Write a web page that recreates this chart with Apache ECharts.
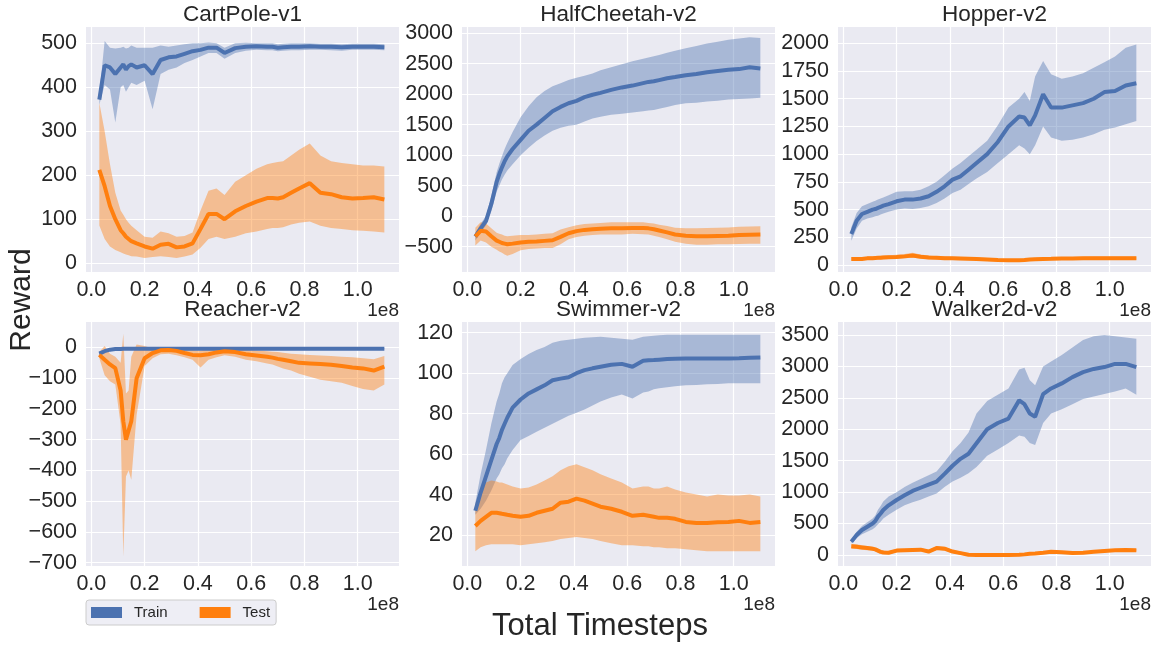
<!DOCTYPE html>
<html>
<head>
<meta charset="utf-8">
<script src="https://cdn.jsdelivr.net/npm/echarts@6/dist/echarts.min.js"></script>
<style>
html,body{margin:0;padding:0;background:#fff}
#main{width:1156px;height:645px}
</style>
</head>
<body>
<div id="main"></div>
<script>
// x positions (units of 1e8 timesteps)
var steps = [0.03,0.05,0.07,0.09,0.11, 0.12,0.13,0.14,0.15,0.17, 0.20,0.23,0.26,0.29,0.32, 0.35,0.38,0.41,0.44,0.47, 0.50,0.54,0.58,0.62,0.66, 0.68,0.70,0.72,0.75,0.78, 0.82,0.86,0.90,0.94,0.98, 1.02,1.06,1.10];

// tick labels
var xTicks       = [0, 0.2, 0.4, 0.6, 0.8, 1.0];
var cartTicks    = [0, 100, 200, 300, 400, 500];
var cheetahTicks = [-500, 0, 500, 1000, 1500, 2000, 2500, 3000];
var hopperTicks  = [0, 250, 500, 750, 1000, 1250, 1500, 1750, 2000];
var reacherTicks = [-700, -600, -500, -400, -300, -200, -100, 0];
var swimTicks    = [20, 40, 60, 80, 100, 120];
var walkerTicks  = [0, 500, 1000, 1500, 2000, 2500, 3000, 3500];

// CartPole-v1
var cartTrain   = [372,450,445,430,445, 452,440,448,452,445, 450,430,462,468,470, 476,482,485,490,490, 478,489,492,493,492, 492,490,491,492,492, 493,492,492,491,492, 492,492,491];
var cartTrainLo = [360,405,395,320,400, 405,390,400,410,405, 415,350,430,440,445, 455,462,470,478,478, 465,478,483,485,484, 484,482,483,484,484, 485,485,484,483,485, 485,485,484];
var cartTrainHi = [385,505,490,488,490, 492,488,490,495,490, 490,490,495,492,495, 498,500,500,502,500, 490,500,501,500,500, 500,498,499,500,500, 500,499,499,498,499, 499,499,498];
var cartTest    = [212,175,130,100,75, 68,60,55,50,45, 38,33,42,44,36, 38,45,78,112,112, 100,118,130,140,148, 148,147,150,160,170, 182,160,157,150,147, 148,150,145];
var cartTestLo  = [86,55,38,30,25, 22,20,18,16,15, 12,14,16,14,12, 15,20,35,55,60, 55,60,68,72,78, 80,80,82,88,92, 95,85,80,78,75, 74,72,70];
var cartTestHi  = [365,300,225,160,120, 110,100,92,85,75, 60,58,72,68,60, 62,70,120,165,170, 155,185,200,215,225, 228,230,232,245,258, 272,245,232,228,225, 222,222,220];

// HalfCheetah-v2
var cheetahTrain   = [-336,-200,-80,200,560, 690,800,900,980,1100, 1250,1400,1500,1610,1720, 1790,1850,1890,1950,1990, 2020,2070,2110,2140,2180, 2200,2210,2230,2260,2280, 2310,2330,2360,2380,2400, 2410,2440,2420];
var cheetahTrainLo = [-400,-280,-150,80,400, 500,600,680,750,850, 1000,1120,1230,1320,1400, 1450,1480,1500,1550,1600, 1630,1660,1680,1700,1720, 1730,1740,1760,1790,1820, 1850,1860,1880,1890,1910, 1920,1930,1940];
var cheetahTrainHi = [-280,-120,0,330,720, 860,980,1100,1200,1380, 1620,1800,1950,2050,2130, 2180,2230,2270,2300,2340, 2390,2440,2490,2540,2580, 2600,2620,2640,2680,2710, 2750,2790,2830,2860,2890, 2910,2930,2920];
var cheetahTest    = [-330,-240,-250,-330,-400, -420,-440,-450,-460,-450, -430,-420,-415,-405,-395, -340,-280,-245,-225,-215, -205,-200,-200,-195,-195, -200,-215,-235,-265,-300, -320,-330,-330,-325,-320, -310,-305,-300];
var cheetahTestLo  = [-480,-400,-430,-500,-550, -580,-600,-630,-650,-620, -560,-540,-530,-520,-520, -460,-380,-340,-320,-310, -300,-300,-300,-290,-295, -300,-320,-340,-380,-420, -450,-470,-470,-460,-460, -455,-450,-450];
var cheetahTestHi  = [-190,-100,-120,-200,-270, -290,-300,-320,-330,-320, -310,-310,-300,-290,-280, -220,-180,-150,-130,-120, -110,-100,-100,-100,-100, -110,-120,-140,-160,-190, -200,-200,-195,-190,-185, -175,-170,-165];

// Hopper-v2
var hopperTrain   = [280,400,460,480,500, 505,515,525,535,550, 575,590,590,600,620, 660,710,770,800,860, 920,1000,1110,1250,1340, 1330,1260,1350,1540,1420, 1420,1440,1460,1500,1560, 1570,1620,1640];
var hopperTrainLo = [220,330,400,420,430, 440,445,455,465,480, 500,510,505,515,530, 560,600,650,680,730, 780,840,920,1000,1080, 1050,1000,1080,1250,1150, 1120,1130,1150,1180,1220, 1240,1270,1300];
var hopperTrainHi = [340,470,530,550,570, 580,590,600,610,630, 660,665,665,680,710, 750,810,870,920,980, 1040,1120,1260,1420,1500, 1560,1480,1700,1840,1720, 1680,1700,1730,1780,1830, 1880,1960,1990];
var hopperTest    = [55,55,55,60,62, 64,65,66,68,70, 72,78,85,75,68, 65,62,60,58,56, 54,50,45,42,42, 45,50,52,55,56, 58,58,60,62,62, 62,62,62];
var hopperTestLo  = [40,42,42,45,48, 50,50,50,52,55, 56,60,65,58,52, 50,48,46,44,42, 40,37,33,30,30, 33,38,40,42,44, 45,45,46,48,48, 48,48,48];
var hopperTestHi  = [70,70,72,78,80, 80,82,84,86,88, 92,100,110,95,85, 80,78,75,72,70, 68,63,57,54,55, 58,62,65,68,70, 72,72,74,76,76, 76,76,76];

// Reacher-v2
var reacherTrain   = [-20,-12,-7,-5,-5, -4,-4,-4,-4,-4, -4,-4,-4,-4,-4, -4,-4,-4,-4,-4, -4,-4,-4,-4,-4, -4,-4,-4,-4,-4, -4,-4,-4,-4,-4, -4,-4,-4];
var reacherTrainLo = [-30,-16,-10,-8,-7, -6,-6,-6,-6,-6, -6,-6,-6,-6,-6, -6,-6,-6,-6,-6, -6,-6,-6,-6,-6, -6,-6,-6,-6,-6, -6,-6,-6,-6,-6, -6,-6,-6];
var reacherTrainHi = [-12,-8,-4,-3,-3, -2,-2,-2,-2,-2, -2,-2,-2,-2,-2, -2,-2,-2,-2,-2, -2,-2,-2,-2,-2, -2,-2,-2,-2,-2, -2,-2,-2,-2,-2, -2,-2,-2];
var reacherTest    = [-24,-40,-55,-67,-140, -240,-300,-270,-240,-100, -35,-18,-9,-8,-11, -18,-24,-25,-22,-16, -12,-15,-22,-26,-30, -33,-37,-40,-45,-50, -52,-54,-56,-60,-65, -68,-75,-62];
var reacherTestLo  = [-35,-90,-110,-120,-250, -680,-420,-400,-430,-220, -60,-35,-22,-20,-25, -32,-40,-65,-40,-32, -25,-30,-40,-45,-52, -55,-62,-68,-75,-85, -95,-105,-110,-115,-125, -135,-140,-120];
var reacherTestHi  = [-15,5,-20,-30,-50, 45,-150,-140,-30,10, 5,-3,0,-2,-4, -6,-8,-10,-6,-3, 0,-3,-8,-10,-12, -14,-15,-17,-20,-22, -24,-26,-28,-30,-32, -35,-38,-28];

// Swimmer-v2
var swimTrain   = [32,41,49,57,65, 68,72,75,78,83, 87,90,92,94,96.5, 97.3,98,100,101.5,102.4, 103.2,104.2,104.6,103.2,106.2, 106.4,106.5,106.7,107,107.1, 107.2,107.2,107.3,107.3,107.3, 107.4,107.6,107.8];
var swimTrainLo = [30,33,37,42,48, 50,53,55,58,62, 67,69,71,73,75, 77,79,80.5,82,84, 86,88,89.5,87.5,90.5, 91,92,92.5,93,93.5, 94,94.2,94.5,94.7,95, 95,95,95];
var swimTrainHi = [36,50,62,75,86, 90,95,98,100,104, 107,109.5,111.5,113,115, 116,116.5,117,117.5,117.8, 118,117.5,117,116.5,118, 118.3,118.5,118.7,119,119, 119,119,119,119,119, 119,119,119];
var swimTest    = [24.5,27,29,31,31, 30.8,30.5,30.3,30,29.5, 29,29.5,31,32,33, 36,36.5,38,37,35.5, 34,33,31.5,29.5,30, 29.5,29,28.5,28.5,28, 26.5,26,26,26.3,26.5, 27,26,26.5];
var swimTestLo  = [12,14,15,15.5,15.5, 15.5,15.5,15.5,15.5,15.5, 15,15.5,16,16.5,17, 18,18.5,19,18.5,18, 17,16,15,15,14.5, 14.5,14,14,13.5,13.5, 13,12.5,12,12,12, 12,12,12];
var swimTestHi  = [35,42,46,47,46.5, 46,46,45.5,45,44, 43,43.5,45,47,49, 52,54,55,53.5,52, 50,48,46,43,44, 44,43,43,44,42.5, 41,40,39,40,39.5, 39.5,40,39];

// Walker2d-v2
var walkerTrain   = [212,318,398,450,500, 540,610,660,716,790, 875,950,1020,1070,1120, 1167,1290,1420,1530,1610, 1777,2000,2100,2170,2460, 2400,2250,2200,2560,2650, 2730,2830,2910,2960,2990, 3040,3040,2990];
var walkerTrainLo = [190,270,330,370,410, 440,490,530,580,640, 720,790,840,880,930, 980,1080,1170,1230,1300, 1400,1580,1680,1780,1900, 1880,1780,1750,2100,2250, 2320,2400,2480,2520,2560, 2600,2650,2550];
var walkerTrainHi = [240,370,460,520,580, 630,720,780,850,930, 1000,1080,1150,1210,1270, 1330,1480,1650,1780,1950, 2250,2450,2550,2650,2950, 2980,2780,2700,3000,3080, 3180,3300,3420,3480,3500, 3480,3460,3440];
var walkerTest    = [140,130,120,110,100, 90,70,50,40,35, 70,75,80,85,55, 110,100,55,30,5, 0,0,0,0,5, 10,20,25,35,50, 45,30,35,50,65, 75,80,75];
var walkerTestLo  = [100,95,85,75,70, 60,40,25,15,10, 45,50,55,60,30, 80,70,30,5,-15, -15,-15,-15,-15,-12, -8,0,5,15,30, 25,10,15,30,45, 55,60,55];
var walkerTestHi  = [180,170,155,145,130, 120,100,80,70,60, 95,100,105,110,80, 140,130,80,55,25, 15,15,15,15,22, 28,40,45,55,70, 65,50,55,70,85, 95,100,95];

var titles = ['CartPole-v1','HalfCheetah-v2','Hopper-v2','Reacher-v2','Swimmer-v2','Walker2d-v2'];
var yTickSets = [cartTicks, cheetahTicks, hopperTicks, reacherTicks, swimTicks, walkerTicks];

var panels = [
    {train:[cartTrain,cartTrainLo,cartTrainHi], test:[cartTest,cartTestLo,cartTestHi]},
    {train:[cheetahTrain,cheetahTrainLo,cheetahTrainHi], test:[cheetahTest,cheetahTestLo,cheetahTestHi]},
    {train:[hopperTrain,hopperTrainLo,hopperTrainHi], test:[hopperTest,hopperTestLo,hopperTestHi]},
    {train:[reacherTrain,reacherTrainLo,reacherTrainHi], test:[reacherTest,reacherTestLo,reacherTestHi]},
    {train:[swimTrain,swimTrainLo,swimTrainHi], test:[swimTest,swimTestLo,swimTestHi]},
    {train:[walkerTrain,walkerTrainLo,walkerTrainHi], test:[walkerTest,walkerTestLo,walkerTestHi]}
];

// layout (pixels) and axis windows
var colLeft = [86, 462, 838], rowTop = [27, 322], plotW = 313, plotH = [245, 244];
var yWindow = [[-20,537],[-915,3100],[-63,2147],[-711,83],[4.7,125.3],[-175,3707]];
var xWindow = [-0.02, 1.155];

var FONT = '"Liberation Sans", Arial, sans-serif';
var INK = '#262626';
var BLUE = '#4c72b0', ORANGE = '#ff7f0e';

var mychart = echarts.init(document.getElementById('main'));

// confidence band drawn as one polygon through the axes' own coordinates
function bandSeries(idx, lo, hi, fill) {
    var rows = steps.map(function (x, k) { return [x, lo[k], hi[k]]; });
    return {
        type: 'custom',
        xAxisIndex: idx, yAxisIndex: idx,
        silent: true,
        data: rows,
        encode: {x: 0, y: [1, 2]},
        renderItem: function (params, api) {
            if (params.dataIndex !== 0) return null;
            var pts = [];
            for (var k = 0; k < rows.length; k++) pts.push(api.coord([rows[k][0], rows[k][2]]));
            for (var k2 = rows.length - 1; k2 >= 0; k2--) pts.push(api.coord([rows[k2][0], rows[k2][1]]));
            return {type: 'polygon', shape: {points: pts}, style: {fill: fill}};
        }
    };
}

function lineSeries(idx, name, vals, color) {
    return {
        name: name,
        type: 'line',
        xAxisIndex: idx, yAxisIndex: idx,
        data: steps.map(function (x, k) { return [x, vals[k]]; }),
        showSymbol: false,
        symbol: 'none',
        silent: true,
        itemStyle: {color: color},
        lineStyle: {color: color, width: 4}
    };
}

function axisCommon(ticks, fmt, margin) {
    return {
        axisLine: {show: false},
        axisTick: {show: false, customValues: ticks},
        splitLine: {show: true, lineStyle: {color: '#ffffff', width: 1.2}},
        axisLabel: {customValues: ticks, fontSize: 21.5, color: INK, fontFamily: FONT,
            margin: margin, formatter: fmt}
    };
}

var grids = [], xAxes = [], yAxes = [], series = [], texts = [];

panels.forEach(function (p, i) {
    var row = i < 3 ? 0 : 1, col = i % 3;
    var left = colLeft[col], top = rowTop[row], h = plotH[row];
    grids.push({left: left, top: top, width: plotW, height: h, show: true,
        backgroundColor: '#eaeaf2', borderWidth: 0});
    xAxes.push(Object.assign({gridIndex: i, type: 'value', min: xWindow[0], max: xWindow[1]},
        axisCommon(xTicks, function (v) { return v.toFixed(1); }, 7)));
    yAxes.push(Object.assign({gridIndex: i, type: 'value', min: yWindow[i][0], max: yWindow[i][1]},
        axisCommon(yTickSets[i], function (v) { return String(Math.round(v)).replace('-', '\u2212'); }, 9)));
    series.push(bandSeries(i, p.train[1], p.train[2], 'rgba(76,114,176,0.42)'));
    series.push(lineSeries(i, 'Train', p.train[0], BLUE));
    series.push(bandSeries(i, p.test[1], p.test[2], 'rgba(255,127,14,0.42)'));
    series.push(lineSeries(i, 'Test', p.test[0], ORANGE));

    // subplot title and the 1e8 offset text
    texts.push({type: 'text', x: left + plotW / 2, y: top - 12,
        style: {text: titles[i], font: '22.5px ' + FONT, fill: INK,
            align: 'center', verticalAlign: 'middle', textAlign: 'center', textVerticalAlign: 'middle'}});
    texts.push({type: 'text', x: left + plotW, y: top + h + 39,
        style: {text: '1e8', font: '19px ' + FONT, fill: INK,
            align: 'right', verticalAlign: 'middle', textAlign: 'right', textVerticalAlign: 'middle'}});
});

texts.push({type: 'text', x: 22, y: 300, rotation: Math.PI / 2,
    style: {text: 'Reward', font: '30px ' + FONT, fill: INK,
        align: 'center', verticalAlign: 'middle', textAlign: 'center', textVerticalAlign: 'middle'}});
texts.push({type: 'text', x: 600, y: 626,
    style: {text: 'Total Timesteps', font: '31px ' + FONT, fill: INK,
        align: 'center', verticalAlign: 'middle', textAlign: 'center', textVerticalAlign: 'middle'}});

var option = {
    animation: false,
    backgroundColor: '#ffffff',
    grid: grids,
    xAxis: xAxes,
    yAxis: yAxes,
    legend: {
        data: ['Train', 'Test'],
        left: 86, top: 600,
        icon: 'rect', itemWidth: 31, itemHeight: 11, itemGap: 32,
        selectedMode: false,
        backgroundColor: '#eeeef5', borderColor: '#cccccc', borderWidth: 1, borderRadius: 3,
        padding: [5, 6, 5, 5],
        textStyle: {fontSize: 15, color: INK, fontFamily: FONT, padding: [0, 0, 0, 7]}
    },
    graphic: texts,
    series: series
};
mychart.setOption(option);
</script>
</body>
</html>
